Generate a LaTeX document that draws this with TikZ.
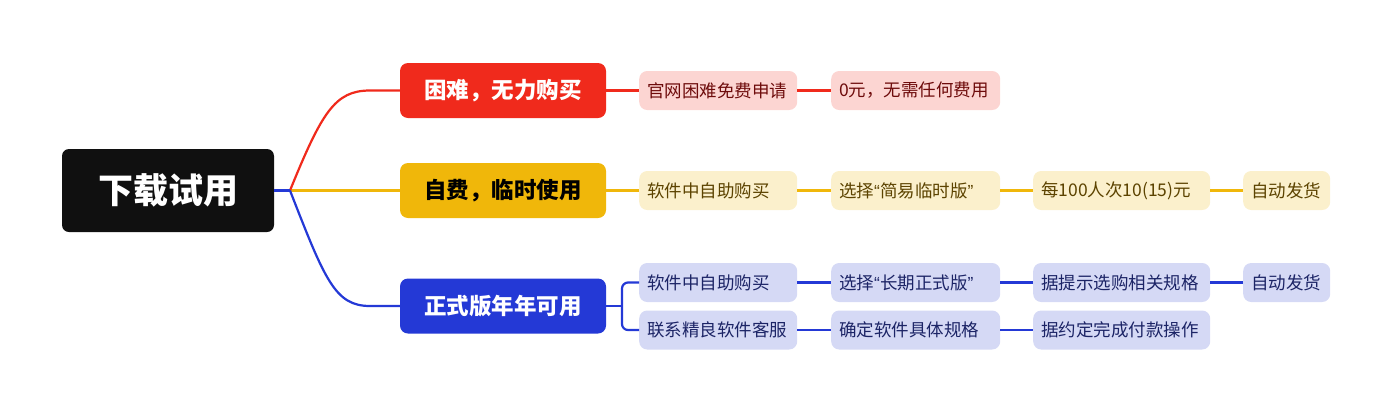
\documentclass[tikz,border=0pt]{standalone}
\usepackage{fontspec}
\setmainfont{Noto Sans CJK SC}
\newfontfamily\latq{Liberation Sans}
\definecolor{rootc}{HTML}{101010}
\definecolor{redc}{HTML}{F02A1C}
\definecolor{redl}{HTML}{FCD5D2}
\definecolor{redt}{HTML}{6E0B0B}
\definecolor{yelc}{HTML}{F0B70A}
\definecolor{yell}{HTML}{FBF0CC}
\definecolor{yelt}{HTML}{5C4300}
\definecolor{bluc}{HTML}{2439D6}
\definecolor{blul}{HTML}{D5D9F5}
\definecolor{blut}{HTML}{1C2466}
\tikzset{
  rootbox/.style={fill=rootc, rounded corners=7, text=white, font=\bfseries\fontsize{35}{40}\selectfont, minimum width=212, minimum height=83, inner sep=0},
  lonebox/.style={rounded corners=8, font=\bfseries\fontsize{22.5}{26}\selectfont, minimum width=206, minimum height=55, inner sep=0},
  ltwobox/.style={rounded corners=8, font=\fontsize{17.5}{21}\selectfont, anchor=west, minimum height=39, inner xsep=8, inner ysep=0, align=left},
  redline/.style={draw=redc, line width=2.2},
  yelline/.style={draw=yelc, line width=2.2},
  bluline/.style={draw=bluc, line width=2.2},
}
\begin{document}
\begin{tikzpicture}[x=1pt,y=-1pt]
\useasboundingbox (0,0) rectangle (1393,413);
% root and level one
\node[rootbox] (root) at (168,190.5) {下载试用};
\node[lonebox, fill=redc, text=white] (r1) at (503,90.5) {困难，无力购买};
\node[lonebox, fill=yelc, text=black] (y1) at (503,190.5) {自费，临时使用};
\node[lonebox, fill=bluc, text=white] (b1) at (503,306) {正式版年年可用};
\coordinate (fork) at (290,190.5);
% level two: red
\node[ltwobox, fill=redl, text=redt, text width=142] (r2) at (639,90.5) {官网困难免费申请};
\node[ltwobox, fill=redl, text=redt, text width=153] (r3) at (831,90.5) {0元，无需任何费用};
% yellow
\node[ltwobox, fill=yell, text=yelt, text width=142] (y2) at (639,190.5) {软件中自助购买};
\node[ltwobox, fill=yell, text=yelt, text width=153] (y3) at (831,190.5) {选择{\latq “}简易临时版{\latq ”}};
\node[ltwobox, fill=yell, text=yelt, text width=161] (y4) at (1033,190.5) {每100人次10(15)元};
\node[ltwobox, fill=yell, text=yelt, text width=71] (y5) at (1243,190.5) {自动发货};
% blue
\node[ltwobox, fill=blul, text=blut, text width=142] (b2) at (639,282.5) {软件中自助购买};
\node[ltwobox, fill=blul, text=blut, text width=153] (b3) at (831,282.5) {选择{\latq “}长期正式版{\latq ”}};
\node[ltwobox, fill=blul, text=blut, text width=161] (b4) at (1033,282.5) {据提示选购相关规格};
\node[ltwobox, fill=blul, text=blut, text width=71] (b5) at (1243,282.5) {自动发货};
\node[ltwobox, fill=blul, text=blut, text width=142] (c2) at (639,330) {联系精良软件客服};
\node[ltwobox, fill=blul, text=blut, text width=153] (c3) at (831,330) {确定软件具体规格};
\node[ltwobox, fill=blul, text=blut, text width=161] (c4) at (1033,330) {据约定完成付款操作};
% connectors from root
\draw[yelline] (fork) -- (y1.west);
\draw[redline] (fork) .. controls (322,112) and (335,90.5) .. (370,90.5) -- (r1.west);
\draw[bluline] (fork) .. controls (325,280) and (335,306) .. (370,306) -- (b1.west);
\draw[bluline] (root.east) -- (fork);
% red chain
\draw[redline] (r1.east) -- (r2.west);
\draw[redline] (r2.east) -- (r3.west);
% yellow chain
\draw[yelline] (y1.east) -- (y2.west);
\draw[yelline] (y2.east) -- (y3.west);
\draw[yelline] (y3.east) -- (y4.west);
\draw[yelline] (y4.east) -- (y5.west);
% blue chains
\coordinate (bfork) at (622,306);
\draw[bluline] (b1.east) -- (bfork);
\draw[bluline, rounded corners=6] (b2.west) -| (bfork) |- (c2.west);
\draw[bluline] (b2.east) -- (b3.west);
\draw[bluline] (b3.east) -- (b4.west);
\draw[bluline] (b4.east) -- (b5.west);
\draw[bluline] (c2.east) -- (c3.west);
\draw[bluline] (c3.east) -- (c4.west);
\end{tikzpicture}
\end{document}
